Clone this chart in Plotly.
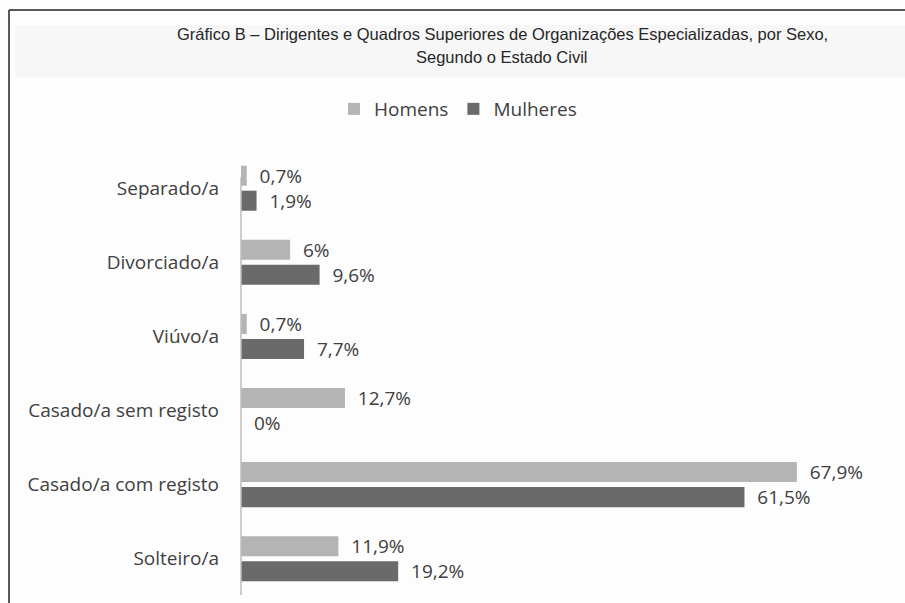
import plotly.graph_objects as go

categories = ["Separado/a", "Divorciado/a", "Viúvo/a", "Casado/a sem registo",
              "Casado/a com registo", "Solteiro/a"]
homens = [0.7, 6, 0.7, 12.7, 67.9, 11.9]
mulheres = [1.9, 9.6, 7.7, 0, 61.5, 19.2]
series_names = ["Homens", "Mulheres"]
title_line1 = "Gráfico B – Dirigentes e Quadros Superiores de Organizações Especializadas, por Sexo,"
title_line2 = "Segundo o Estado Civil"


def fmt(v):
    s = f"{v:g}".replace(".", ",")
    return "\u00a0\u00a0" + s + "%"


FONT_FAMILY = "Open Sans, Lato, sans-serif"
LABEL_FONT = dict(family=FONT_FAMILY, size=19, color="#404040")

fig = go.Figure()
fig.add_trace(go.Bar(
    y=categories, x=homens, name=series_names[0], orientation="h",
    marker=dict(color="#b4b4b4", line=dict(width=0)),
    text=[fmt(v) for v in homens], textposition="outside", constraintext="none",
    textfont=LABEL_FONT, cliponaxis=False,
))
fig.add_trace(go.Bar(
    y=categories, x=mulheres, name=series_names[1], orientation="h",
    marker=dict(color="#6a6a6a", line=dict(width=0)),
    text=[fmt(v) for v in mulheres], textposition="outside", constraintext="none",
    textfont=LABEL_FONT, cliponaxis=False,
))

W, H = 905, 603
L, R, T, B = 241, 50, 163, 8
pw, ph = W - L - R, H - T - B


def sx(px):
    return (px - L) / pw


def sy(py):
    return (H - B - py) / ph


fig.update_layout(
    width=W, height=H,
    margin=dict(l=L, r=R, t=T, b=B),
    paper_bgcolor="#fdfdfd", plot_bgcolor="#fdfdfd",
    barmode="group", bargap=0.324, bargroupgap=0.2,
    showlegend=True,
    legend=dict(orientation="h", xref="container", yref="container",
                x=458 / W, xanchor="center", y=1 - 109 / H, yanchor="middle",
                font=dict(family=FONT_FAMILY, size=19, color="#404040"),
                itemwidth=30, traceorder="normal", bgcolor="rgba(0,0,0,0)"),
    xaxis=dict(range=[0, 75], visible=False, showgrid=False, zeroline=False),
    yaxis=dict(range=[5.49, -0.34], showline=False,
               showgrid=False, ticks="", ticklabelstandoff=21,
               tickfont=dict(family=FONT_FAMILY, size=19, color="#404040")),
    font=dict(family=FONT_FAMILY),
)

# category axis line (starts a little below the top of the plot area)
fig.add_shape(type="line", xref="paper", yref="paper",
              x0=0, x1=0, y0=0, y1=sy(177),
              line=dict(color="#bdbdbd", width=1.5))

fig.add_annotation(text=title_line1, xref="paper", yref="paper",
                   x=sx(502), y=sy(34), xanchor="center", yanchor="middle",
                   showarrow=False,
                   font=dict(family="Liberation Sans, Arial, sans-serif", size=16.5, color="#262626"))
fig.add_annotation(text=title_line2, xref="paper", yref="paper",
                   x=sx(502), y=sy(57), xanchor="center", yanchor="middle",
                   showarrow=False,
                   font=dict(family="Liberation Sans, Arial, sans-serif", size=16.5, color="#262626"))

# faint title band
fig.add_shape(type="rect", xref="paper", yref="paper", layer="below",
              x0=sx(15), x1=sx(905), y0=sy(77), y1=sy(25),
              fillcolor="#f7f7f7", line=dict(width=0))
# frame lines (top and left)
fig.add_shape(type="line", xref="paper", yref="paper",
              x0=sx(9), x1=sx(905), y0=sy(10), y1=sy(10),
              line=dict(color="#222222", width=1.5))
fig.add_shape(type="line", xref="paper", yref="paper",
              x0=sx(9), x1=sx(9), y0=sy(10), y1=sy(603),
              line=dict(color="#222222", width=1.5))

fig.write_html("out.html", config={"displayModeBar": False},
               post_script="document.body.style.margin='0';document.body.style.overflow='hidden';")
